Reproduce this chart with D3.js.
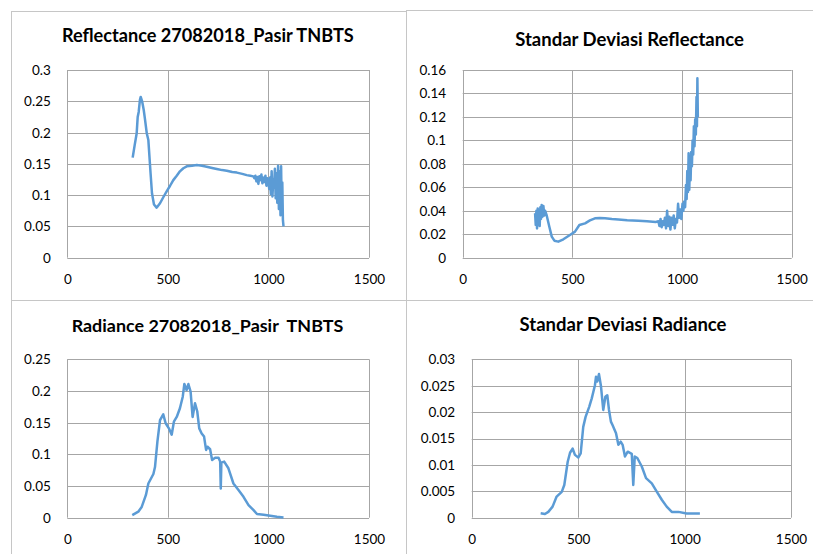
<!DOCTYPE html>
<html><head><meta charset="utf-8">
<script src="https://cdn.jsdelivr.net/npm/d3@7"></script>
<style>html,body{margin:0;padding:0;background:#fff;}svg{display:block;}</style>
</head><body>
<svg id="c" width="813" height="554"></svg>
<script>
// ---------- DATA ----------
const xTicks = [0, 500, 1000, 1500];

const reflTitle = "Reflectance 27082018_Pasir TNBTS";
const reflTicks = [0, 0.05, 0.1, 0.15, 0.2, 0.25, 0.3];
const reflWl = [325,335,345,350,355,361,365,372,380,386,395,403,414,421,431,444,461,478,494,511,527,544,560,577,594,620,644,670,693,720,743,770,793,820,843,870,892,910,925,
  930,935,940,945,950,955,960,965,970,975,980,985,990,995,1000,1004,1008,1012,1016,1020,1024,1028,1032,1036,1040,1044,1048,1052,1056,1060,1063,1066,1069,1072,1075];
const reflVal = [0.160,0.180,0.199,0.225,0.233,0.252,0.257,0.250,0.236,0.222,0.199,0.188,0.135,0.103,0.085,0.080,0.087,0.097,0.106,0.115,0.124,0.131,0.138,0.143,0.146,0.147,0.148,0.147,0.1455,0.1435,0.1418,0.140,0.139,0.137,0.136,0.134,0.132,0.131,0.130,
  0.127,0.131,0.122,0.129,0.118,0.130,0.124,0.133,0.119,0.128,0.121,0.131,0.115,0.127,0.120,0.110,0.128,0.102,0.138,0.098,0.125,0.112,0.142,0.095,0.135,0.088,0.147,0.078,0.138,0.068,0.146,0.080,0.120,0.060,0.050];

const sdReflTitle = "Standar Deviasi Reflectance";
const sdReflTicks = [0, 0.02, 0.04, 0.06, 0.08, 0.1, 0.12, 0.14, 0.16];
const sdReflWl = [330,333,336,339,342,345,348,351,354,357,360,364,368,372,376,383,395,406,418,436,459,489,512,532,558,580,603,625,649,680,710,750,801,840,880,
  892,897,902,907,912,917,922,927,932,937,942,947,952,957,962,967,972,977,982,987,992,997,1002,1006,1010,1014,1018,1021,1024,1027,1030,1033,1036,1039,1042,1045,1048,1051,1054,1057,1060,1063,1066,1068,1070,1072];
const sdReflVal = [0.038,0.028,0.040,0.025,0.042,0.030,0.039,0.027,0.043,0.033,0.045,0.035,0.044,0.036,0.040,0.036,0.0264,0.018,0.0145,0.0137,0.0157,0.0193,0.0222,0.0279,0.0293,0.0318,0.0336,0.0338,0.0336,0.0330,0.0326,0.0320,0.0315,0.0310,0.0305,
  0.031,0.027,0.033,0.026,0.031,0.028,0.034,0.025,0.040,0.027,0.035,0.024,0.034,0.028,0.036,0.025,0.033,0.030,0.046,0.034,0.041,0.033,0.046,0.040,0.048,0.043,0.062,0.050,0.074,0.056,0.089,0.058,0.082,0.066,0.090,0.078,0.100,0.088,0.112,0.095,0.118,0.105,0.137,0.112,0.153,0.120];

const radTitle = "Radiance 27082018_Pasir  TNBTS";
const radTicks = [0, 0.05, 0.1, 0.15, 0.2, 0.25];
const radWl = [323,353,370,391,403,428,436,448,461,477,489,505,519,530,544,560,574,582,593,602,613,623,635,646,656,668,680,690,697,710,720,735,752,760,763,766,780,801,826,851,876,901,926,943,976,1009,1042,1075];
const radVal = [0.004,0.0095,0.017,0.036,0.054,0.069,0.080,0.120,0.154,0.163,0.149,0.141,0.131,0.1515,0.159,0.1727,0.191,0.211,0.2015,0.211,0.199,0.159,0.1805,0.168,0.141,0.133,0.128,0.107,0.112,0.108,0.091,0.0945,0.0945,0.0885,0.046,0.087,0.0885,0.078,0.054,0.0437,0.033,0.020,0.012,0.0058,0.0046,0.003,0.0015,0.0005];

const sdRadTitle = "Standar Deviasi Radiance";
const sdRadTicks = [0, 0.005, 0.01, 0.015, 0.02, 0.025, 0.03];
const sdRadWl = [324,344,360,380,399,423,435,451,462,474,485,501,512,524,535,552,564,579,584,590,598,607,618,628,637,645,654,662,678,689,700,709,720,733,752,759,766,778,799,819,846,870,893,916,940,971,1010,1041,1072];
const sdRadVal = [0.00083,0.0007,0.0011,0.0021,0.004,0.0049,0.0062,0.0106,0.0123,0.0131,0.0119,0.0114,0.0122,0.0172,0.0191,0.021,0.0226,0.0251,0.0267,0.0258,0.0272,0.025,0.0204,0.0229,0.0232,0.0204,0.0182,0.0175,0.016,0.0138,0.0144,0.0138,0.0116,0.0125,0.0121,0.0062,0.0116,0.0113,0.0097,0.0075,0.0065,0.0049,0.0034,0.0021,0.0011,0.0011,0.0008,0.0008,0.0008];

// ---------- DRAW ----------
const svg = d3.select("#c");
const FONT = "Lato, 'Open Sans', 'Liberation Sans', sans-serif";
const LINE = "#5b9bd5", GRID = "#a6a6a6", BORDER = "#c6c6c6";

// panel borders
const borders = [[11,11,11,554],[11,11,406,11],[406,10,813,10],[406,10,406,554],[11,300,813,300]];
svg.selectAll("line.border").data(borders).join("line").attr("class","border")
  .attr("x1",d=>d[0]).attr("y1",d=>d[1]).attr("x2",d=>d[2]).attr("y2",d=>d[3])
  .attr("stroke",BORDER).attr("stroke-width",1).attr("shape-rendering","crispEdges");

const panels = [
  {title: reflTitle, tw: 292, tx: 207.8, ty: 41.7, wl: reflWl, val: reflVal, ticks: reflTicks, fmt: d=>String(d), box:[67.3,369,70,257.7]},
  {title: sdReflTitle, tw: 232, tx: 629.5, ty: 45.5, wl: sdReflWl, val: sdReflVal, ticks: sdReflTicks, fmt: d=>String(d), box:[462.7,791.7,70,257.7]},
  {title: radTitle, tw: 272, tx: 207.5, ty: 331.7, wl: radWl, val: radVal, ticks: radTicks, fmt: d=>String(d), box:[67.3,369,359.3,517.7]},
  {title: sdRadTitle, tw: 211, tx: 623, ty: 331, wl: sdRadWl, val: sdRadVal, ticks: sdRadTicks, fmt: d=>String(+d.toFixed(3)), box:[471.7,791,359.3,517.7]}
];

panels.forEach(p => {
  const [l,r,t,b] = p.box;
  const x = d3.scaleLinear().domain([0,1500]).range([l,r]);
  const y = d3.scaleLinear().domain([0,d3.max(p.ticks)]).range([b,t]);
  const g = svg.append("g");

  g.selectAll("line.hg").data(p.ticks).join("line")
    .attr("x1",l).attr("x2",r).attr("y1",d=>Math.round(y(d))+0.5).attr("y2",d=>Math.round(y(d))+0.5)
    .attr("stroke",GRID).attr("stroke-width",1);
  g.selectAll("line.vg").data(xTicks).join("line")
    .attr("y1",t).attr("y2",b).attr("x1",d=>Math.round(x(d))+0.5).attr("x2",d=>Math.round(x(d))+0.5)
    .attr("stroke",GRID).attr("stroke-width",1);

  const ya = d3.axisLeft(y).tickValues(p.ticks).tickSize(0).tickPadding(16.5).tickFormat(p.fmt);
  const yg = g.append("g").attr("transform",`translate(${l},0)`).call(ya);
  yg.select(".domain").remove();
  yg.selectAll("text").attr("font-family",FONT).attr("font-size",13.5).attr("fill","#000").attr("dy","0.33em");

  const xa = d3.axisBottom(x).tickValues(xTicks).tickSize(0).tickPadding(0).tickFormat(d=>String(d));
  const xg = g.append("g").attr("transform",`translate(0,${b})`).call(xa);
  xg.select(".domain").remove();
  xg.selectAll("text").attr("font-family",FONT).attr("font-size",13.5).attr("fill","#000").attr("dy",null).attr("y",26);

  const pts = p.wl.map((w,i)=>[w,p.val[i]]);
  g.append("path").datum(pts)
    .attr("d", d3.line().x(d=>x(d[0])).y(d=>y(d[1])))
    .attr("fill","none").attr("stroke",LINE).attr("stroke-width",2.5).attr("stroke-linejoin","round");

  const tt = g.append("text").attr("x",p.tx).attr("y",p.ty).attr("text-anchor","middle")
    .attr("font-family",FONT).attr("font-weight","bold").attr("font-size",18)
    .style("white-space","pre").attr("fill","#000").text(p.title);
  const w = tt.node().getComputedTextLength();
  if (w > 0) tt.attr("font-size", Math.min(18.5, 18 * p.tw / w));
});
</script>
</body></html>
